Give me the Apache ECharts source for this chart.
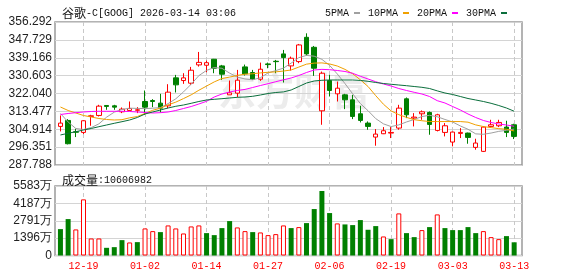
<!DOCTYPE html>
<html>
<head>
<meta charset="utf-8">
<script src="https://cdn.jsdelivr.net/npm/echarts@6/dist/echarts.min.js"></script>
<style>html,body{margin:0;padding:0;background:#fff}#c{width:578px;height:276px}</style>
</head>
<body>
<div id="c"></div>
<script>
const stockName = '谷歌';
const stockCode = '-C[GOOG]';
const timestamp = '2026-03-14 03:06';
const lastVolume = 10606982;
const prevClose = 309.0;

const dates = ['12-16','12-17','12-18','12-19','12-22','12-23','12-24','12-26','12-29','12-30',
  '12-31','01-02','01-05','01-06','01-07','01-08','01-09','01-12','01-13','01-14',
  '01-15','01-16','01-20','01-21','01-22','01-23','01-26','01-27','01-28','01-29',
  '01-30','02-02','02-03','02-04','02-05','02-06','02-09','02-10','02-11','02-12',
  '02-13','02-17','02-18','02-19','02-20','02-23','02-24','02-25','02-26','02-27',
  '03-02','03-03','03-04','03-05','03-06','03-09','03-10','03-11','03-12','03-13'];

const opens = [306.27,309.13,303.70,303.40,311.05,311.52,316.30,316.14,313.28,313.92,
  314.00,318.21,318.69,317.42,316.14,329.53,328.25,326.98,335.74,335.58,
  338.45,335.26,321.40,322.20,334.78,332.08,328.89,336.22,337.49,341.00,
  335.26,337.33,348.96,344.18,313.75,328.25,321.88,321.40,319.01,312.32,
  307.86,301.17,302.76,303.08,305.47,319.49,310.25,312.32,312.96,304.35,
  303.40,298.78,302.92,303.08,296.23,294.32,306.27,306.58,305.95,307.06];
const closes = [307.86,297.98,303.50,308.98,311.37,315.98,315.85,315.51,314.55,314.87,
  314.23,315.51,318.21,315.03,322.68,326.18,329.53,333.19,336.95,336.80,
  334.15,331.28,322.36,328.41,331.44,328.89,333.67,335.90,337.30,339.24,
  338.93,345.30,341.00,334.15,331.76,323.47,324.59,319.01,311.05,309.13,
  306.27,302.60,304.20,303.40,315.03,311.84,310.73,313.28,307.22,311.84,
  306.58,303.56,303.40,301.01,298.30,305.95,307.06,308.18,303.40,301.49];
const lows = [303.88,297.66,301.17,302.60,306.59,311.05,314.23,314.23,312.64,313.92,
  312.64,311.84,315.51,312.96,315.03,322.52,326.66,326.18,334.94,332.23,
  331.76,328.57,321.40,320.29,330.64,328.57,328.09,334.15,331.76,327.30,
  333.03,336.54,340.20,330.48,307.06,320.60,318.21,314.55,309.77,308.18,
  304.67,297.03,302.60,300.69,304.67,310.25,306.27,309.45,302.28,303.88,
  301.49,296.71,300.69,297.98,295.11,294.00,305.95,305.95,301.17,300.21];
const highs = [311.52,309.77,305.15,309.20,311.84,316.62,316.30,316.62,315.35,318.21,
  315.51,323.47,319.33,321.88,326.50,330.96,331.76,334.78,341.95,337.81,
  338.60,335.74,328.25,333.35,335.90,333.35,336.85,336.85,338.13,342.91,
  339.72,345.78,350.87,344.82,332.55,330.96,327.77,321.88,321.40,316.14,
  308.66,304.99,305.95,305.95,316.62,320.13,312.64,313.92,313.44,312.32,
  307.86,303.88,305.47,303.30,300.37,306.27,309.45,309.45,308.98,307.54];

// volume in 万
const volumes = [2120,2926,2094,4509,1369,1369,617,671,1235,1047,
  1074,2174,1959,1879,2416,2174,1771,2335,2416,1798,
  1637,2201,2765,2255,1959,1879,1852,1637,1718,2416,
  2201,2281,2603,3731,5180,3409,2577,2496,2442,2845,
  2067,2362,1530,1315,3382,1798,1476,2040,2281,3301,
  2201,2040,2040,2281,1798,1959,1476,1315,1557,1060.6982];

const ma5 = [312.46,308.39,305.28,304.80,305.70,307.50,310.70,313.10,314.40,315.00,
  314.90,314.80,315.00,315.30,317.20,319.50,322.80,326.50,330.60,333.10,
  334.50,334.10,331.80,329.90,329.00,328.60,329.60,331.90,333.00,334.20,
  336.60,339.20,340.30,339.90,338.40,335.50,331.40,326.80,321.90,317.20,
  313.80,310.00,307.50,306.20,307.00,308.40,309.60,311.00,311.60,310.90,
  309.60,308.40,306.50,304.90,302.70,302.50,303.10,303.90,304.40,305.00];
const ma10 = [315.57,313.90,312.70,311.50,310.78,310.06,309.59,309.35,309.49,310.40,
  311.00,312.50,314.00,315.00,316.60,317.90,319.60,321.40,323.60,325.60,
  327.60,329.20,329.90,330.70,331.30,331.50,331.90,332.20,332.40,332.80,
  333.30,334.70,336.10,336.60,336.70,336.20,335.20,333.60,331.50,328.60,
  325.40,321.00,316.90,313.70,311.90,310.60,309.50,309.00,308.60,308.60,
  308.60,308.60,308.60,308.30,307.00,306.20,305.70,305.20,304.90,304.10];
const ma20 = [311.98,312.46,312.85,313.18,313.42,313.52,313.52,313.52,313.52,313.42,
  313.18,312.94,312.70,312.85,313.18,313.90,314.85,315.81,317.01,318.30,
  320.36,321.80,322.76,323.48,324.00,324.91,325.87,326.74,327.69,328.60,
  329.47,330.66,332.10,333.30,333.60,333.44,333.06,332.58,331.72,330.30,
  328.99,327.69,326.59,325.63,324.43,323.48,322.61,321.80,320.60,318.60,
  317.49,315.81,314.14,312.22,310.54,309.11,308.15,307.43,306.95,306.35];
const ma30 = [302.17,302.98,303.74,304.56,305.28,306.14,306.95,307.77,308.53,309.35,
  310.55,312.22,313.18,314.14,315.10,315.91,316.53,317.34,318.21,318.93,
  319.26,319.55,319.88,320.22,320.36,320.70,321.32,322.04,322.52,322.80,
  323.72,325.39,327.07,328.03,328.37,328.51,328.51,328.51,328.51,328.30,
  327.88,327.31,326.83,326.45,326.11,325.78,325.39,325.01,324.43,323.30,
  322.28,321.56,320.60,319.64,318.93,318.21,317.34,316.29,315.09,313.55];

const priceTicks = ['287.788','296.351','304.914','313.477','322.040','330.603','339.166','347.729','356.292'];
const volTicks = ['0','1396万','2791万','4187万','5583万'];
const maNames = ['5PMA','10PMA','20PMA','30PMA'];

const RED = '#ff0000', GREEN = '#008000';
const maColors = ['#a0a0a0', '#f0a000', '#ff00ff', '#0a6e3c'];
const MONO = '"Liberation Mono", "DejaVu Sans Mono", monospace';
const SANS = '"Liberation Sans", Arial, sans-serif';
const CJK = '"Noto Sans CJK SC", sans-serif';

const candleData = dates.map((d, i) => [opens[i], closes[i], lows[i], highs[i]]);
const volData = volumes.map((v, i) => {
  const up = closes[i] >= (i === 0 ? prevClose : closes[i - 1]);
  return {
    value: v,
    itemStyle: up ? { color: '#ffffff', borderColor: RED, borderWidth: 1 } : { color: GREEN, borderColor: GREEN, borderWidth: 0 }
  };
});

const labelEvery = (idx) => idx % 8 === 3;
const vSplit = { show: true, interval: labelEvery, alignWithLabel: true,
  lineStyle: { color: '#c8c8c8', type: [4, 3], width: 1 } };
const hSplit = { show: true, lineStyle: { color: '#d4d4d4', width: 1 } };
const gridBorder = { show: true, borderColor: '#9a9a9a', borderWidth: 1.5, backgroundColor: 'transparent' };
const richText = {
  c: { fontFamily: CJK, fontSize: 12, color: '#111', fontWeight: 'normal' },
  a: { fontFamily: MONO, fontSize: 10, color: '#111', fontWeight: 'normal' }
};

const chart = echarts.init(document.getElementById('c'), null, { renderer: 'canvas' });
chart.setOption({
  animation: false,
  backgroundColor: '#ffffff',
  title: [
    { left: 57, top: 2, text: '{c|' + stockName + '}{a|' + stockCode + ' ' + timestamp + '}',
      textStyle: { fontWeight: 'normal', rich: richText } },
    { left: 57, top: 169, text: '{c|成交量}{a|:' + lastVolume + '}',
      textStyle: { fontWeight: 'normal', rich: richText } }
  ],
  legend: {
    data: maNames, top: 3, right: 66, align: 'right', icon: 'rect',
    itemWidth: 6, itemHeight: 2, itemGap: 8,
    textStyle: { fontFamily: MONO, fontSize: 10, color: '#111' }
  },
  graphic: [{
    type: 'text', left: 218, top: 72, z: -10, silent: true,
    style: { text: '东方财富', font: 'bold 38px "Noto Sans CJK SC"', fill: '#ececec' }
  }],
  grid: [
    Object.assign({ left: 55, right: 56, top: 22, height: 143 }, gridBorder),
    { left: 56.6, right: 60, top: 22, height: 143, show: false },
    Object.assign({ left: 55, right: 56, top: 186, height: 69.5 }, gridBorder),
    { left: 56.6, right: 60, top: 186, height: 69.5, show: false }
  ],
  xAxis: [
    { type: 'value', gridIndex: 0, min: 0, max: 1, show: false },
    { type: 'category', gridIndex: 1, data: dates, boundaryGap: true,
      axisLine: { show: false }, axisTick: { show: false }, axisLabel: { show: false },
      splitLine: vSplit },
    { type: 'value', gridIndex: 2, min: 0, max: 1, show: false },
    { type: 'category', gridIndex: 3, data: dates, boundaryGap: true,
      axisLine: { show: false }, axisTick: { show: false },
      axisLabel: { show: true, interval: labelEvery, color: RED, fontFamily: MONO, fontSize: 10, margin: 6 },
      splitLine: vSplit }
  ],
  yAxis: [
    { type: 'value', gridIndex: 0, min: 0, max: 8, interval: 1,
      axisLine: { show: false }, axisTick: { show: false },
      axisLabel: { formatter: v => priceTicks[v], color: '#222', fontFamily: SANS, fontSize: 12, margin: 3 },
      splitLine: hSplit },
    { type: 'value', gridIndex: 1, min: 287.788, max: 356.292, show: false, splitLine: { show: false } },
    { type: 'value', gridIndex: 2, min: 0, max: 4, interval: 1,
      axisLine: { show: false }, axisTick: { show: false },
      axisLabel: { formatter: v => volTicks[v], color: '#222', fontFamily: SANS, fontSize: 12, margin: 3 },
      splitLine: hSplit },
    { type: 'value', gridIndex: 3, min: 0, max: 5583, show: false, splitLine: { show: false } }
  ],
  series: [
    { type: 'candlestick', name: 'K', xAxisIndex: 1, yAxisIndex: 1, data: candleData, barWidth: 5,
      itemStyle: { color: '#ffffff', color0: GREEN, borderColor: RED, borderColor0: GREEN, borderWidth: 1 } },
    ...[ma5, ma10, ma20, ma30].map((arr, k) => ({
      type: 'line', name: maNames[k], xAxisIndex: 1, yAxisIndex: 1, data: arr,
      symbol: 'none', showSymbol: false, color: maColors[k],
      lineStyle: { width: 1, color: maColors[k] }, z: 3
    })),
    { type: 'bar', name: 'VOL', xAxisIndex: 3, yAxisIndex: 3, data: volData, barWidth: 5 }
  ]
});
</script>
</body>
</html>
